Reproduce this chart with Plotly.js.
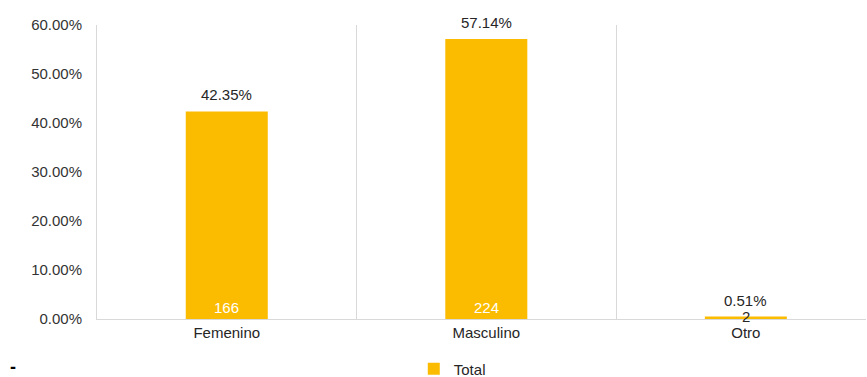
<!DOCTYPE html>
<html>
<head>
<meta charset="utf-8">
<script src="https://cdn.plot.ly/plotly-3.0.1.min.js"></script>
<style>html,body{margin:0;padding:0;background:#fff;}#chart{width:867px;height:377px;}</style>
</head>
<body>
<div id="chart"></div>
<script>
const categories = ["Femenino", "Masculino", "Otro"];
const percentages = [0.4235, 0.5714, 0.0051];
const counts = [166, 224, 2];
const seriesName = "Total";
const yTickVals = [0, 0.1, 0.2, 0.3, 0.4, 0.5, 0.6];

const barColor = "#FBBC00";
const font = "Liberation Sans, Arial, sans-serif";

const trace = {
  type: "bar",
  x: categories,
  y: percentages,
  name: seriesName,
  marker: {color: barColor},
  width: 0.316,
  hoverinfo: "none",
  showlegend: true
};

const annotations = [];
categories.forEach((c, i) => {
  annotations.push({
    x: c, y: percentages[i], xref: "x", yref: "y",
    text: (percentages[i] * 100).toFixed(2) + "%",
    showarrow: false, yanchor: "bottom", yshift: 6,
    font: {family: font, size: 15, color: "#262626"}
  });
  const tall = percentages[i] > 0.05;
  annotations.push({
    x: c, y: 0, xref: "x", yref: "y",
    text: String(counts[i]),
    showarrow: false, yanchor: tall ? "bottom" : "middle", yshift: tall ? 1 : 3,
    font: {family: font, size: 15, color: tall ? "#ffffff" : "#262626"}
  });
});
annotations.push({
  x: -0.116, y: -0.205, xref: "paper", yref: "paper",
  text: "<b>-</b>", showarrow: false,
  font: {family: font, size: 18, color: "#000000"}
});

const layout = {
  width: 867, height: 377,
  margin: {l: 97, r: 1, t: 25, b: 58, autoexpand: false},
  paper_bgcolor: "#ffffff", plot_bgcolor: "#ffffff",
  font: {family: font, size: 15, color: "#262626"},
  xaxis: {
    type: "category",
    range: [-0.5, 2.463],
    tickson: "boundaries",
    ticks: "", showgrid: true, gridcolor: "#d9d9d9", gridwidth: 1,
    showline: true, linecolor: "#d9d9d9", linewidth: 1,
    tickfont: {family: font, size: 15, color: "#262626"},
    automargin: false,
    fixedrange: true
  },
  yaxis: {
    range: [0, 0.6],
    tickvals: yTickVals,
    tickformat: ".2%",
    showgrid: false, zeroline: false,
    showline: true, linecolor: "#d9d9d9", linewidth: 1,
    ticks: "", ticklen: 0,
    ticklabelstandoff: 11,
    tickfont: {family: font, size: 15, color: "#333333"},
    automargin: false,
    fixedrange: true
  },
  showlegend: true,
  legend: {
    orientation: "h", x: 0.462, xanchor: "center", y: -0.17, yanchor: "middle",
    font: {family: font, size: 15, color: "#262626"},
    itemwidth: 30
  },
  annotations: annotations,
  bargap: 0.2
};

Plotly.newPlot("chart", [trace], layout, {displayModeBar: false, staticPlot: true});
</script>
</body>
</html>
